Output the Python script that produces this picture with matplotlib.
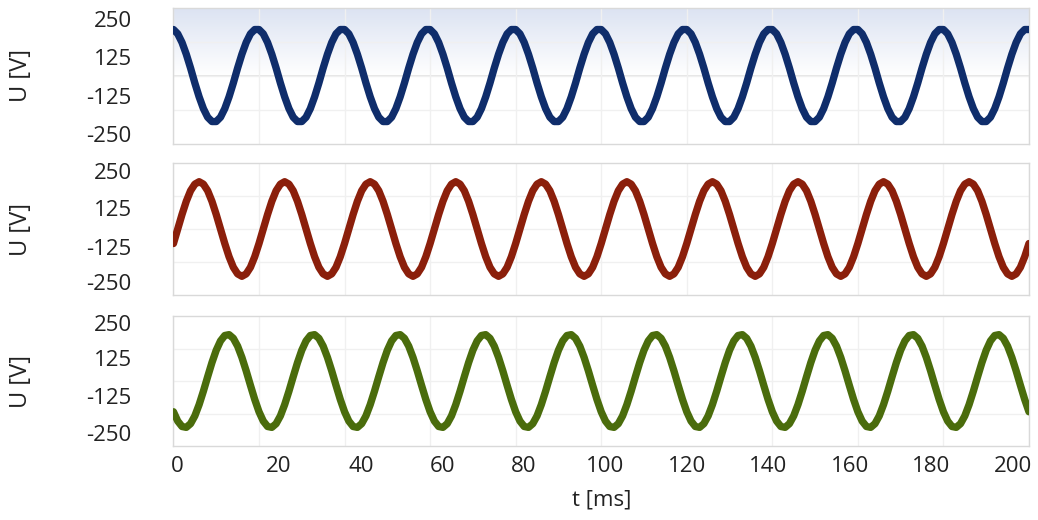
import numpy as np
import matplotlib
matplotlib.use("Agg")
import matplotlib.pyplot as plt
from matplotlib.colors import LinearSegmentedColormap

plt.rcParams['font.family'] = ['Open Sans', 'DejaVu Sans']

# one period (20 ms, 1 ms step) of each phase
periodo_ms = 20
n_periodos = 10
fase_a = [203, 184, 146, 94, 33, -33, -94, -146, -184, -203,
          -203, -184, -146, -94, -33, 33, 94, 146, 184, 203]
fase_b = [-66, 0, 66, 126, 174, 204, 215, 204, 174, 126,
          66, 0, -66, -126, -174, -204, -215, -204, -174, -126]
fase_c = [-142, -185, -210, -214, -197, -161, -109, -47, 20, 85,
          142, 185, 210, 214, 197, 161, 109, 47, -20, -85]

cores = ['#0f2d6b', '#8b1f0b', '#4a6c0c']

x_rotulos = ['0', '20', '40', '60', '80', '100', '120', '140', '160', '180', '200']
y_rotulos = ['250', '125', '-125', '-250']
# label positions as they sit in the reference (not on the gridlines)
x_pos_rotulos = [1.0, 24.7, 43.8, 62.8, 81.9, 100.9, 120.0, 139.1, 158.1, 177.2, 196.2]
y_pos_rotulos = [[251, 82, -91, -257],
                 [265, 96, -81, -239],
                 [266, 104, -68, -239]]

t = np.arange(0, periodo_ms * n_periodos + 1)
series = []
for fase in (fase_a, fase_b, fase_c):
    v = np.tile(fase, n_periodos)
    series.append(np.append(v, fase[0]))

fig = plt.figure(figsize=(10.38, 5.2), dpi=100)
caixas = [(0.1671, 0.7240, 0.8242, 0.2615),
          (0.1671, 0.4327, 0.8242, 0.2538),
          (0.1671, 0.1423, 0.8242, 0.2500)]

cor_borda = '#d9d9d9'
cor_grade = '#f0f0f0'
cor_texto = '#222222'

for i, (caixa, v, cor) in enumerate(zip(caixas, series, cores)):
    ax = fig.add_axes(caixa)

    if i == 0:
        # light blue gradient on the upper half of the first panel
        cmap = LinearSegmentedColormap.from_list('grad', ['#dce3f2', '#ffffff'])
        grad = np.linspace(0, 1, 256).reshape(-1, 1)
        ax.imshow(grad, cmap=cmap, aspect='auto', extent=(0, 200, 0, 300),
                  origin='upper', zorder=0)
        ax.axhline(0, color='#e2e2e2', lw=1.2, zorder=1)

    ax.set_xlim(0, 200)
    ax.set_ylim(-300, 300)

    ax.plot(t, v, color=cor, lw=5.3, solid_capstyle='round',
            solid_joinstyle='round', zorder=3)

    ax.set_xticks(np.arange(0, 201, 20), minor=True)
    ax.set_yticks([-150, 0, 150], minor=True)
    ax.grid(True, which='minor', color=cor_grade, lw=1.0, zorder=1)
    ax.tick_params(which='minor', length=0)

    ax.set_yticks(y_pos_rotulos[i])
    ax.set_yticklabels(y_rotulos)
    ax.tick_params(axis='y', which='major', length=0, pad=30,
                   labelsize=16, colors=cor_texto)

    if i == 2:
        ax.set_xticks(x_pos_rotulos)
        ax.set_xticklabels(x_rotulos)
        ax.tick_params(axis='x', which='major', length=0, pad=7,
                       labelsize=16, colors=cor_texto)
        ax.set_xlabel('t [ms]', fontsize=16, color=cor_texto, labelpad=9)
    else:
        ax.set_xticks([])

    for s in ax.spines.values():
        s.set_color(cor_borda)
        s.set_linewidth(1.0)

    ax.set_ylabel('U [V]', fontsize=17, color=cor_texto)
    ax.yaxis.set_label_coords(-0.164, 0.5)

fig.savefig('out.png', dpi=100)
